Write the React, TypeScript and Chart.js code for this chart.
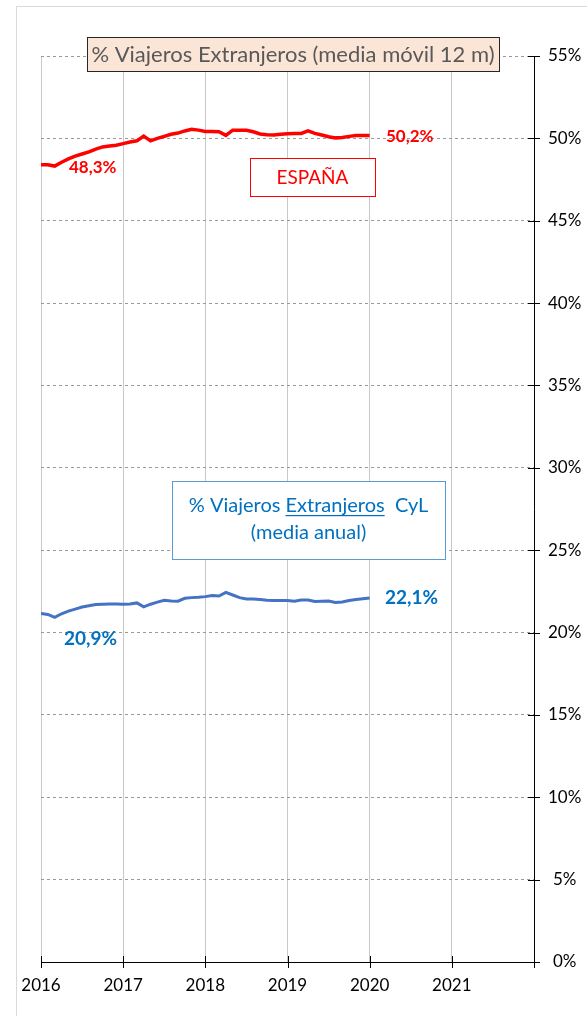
import React, { useEffect, useRef } from 'react';
import { Chart, registerables } from 'chart.js';

Chart.register(...registerables);

// ---- data ----
const startYear = 2016;
const endYear = 2022;
const yearLabels = ['2016', '2017', '2018', '2019', '2020', '2021'];
const yMax = 55;
const yStep = 5;

// monthly values Jan-2016 .. Jan-2020 (% foreign travellers, 12-month moving average)
const espana = [
  48.4, 48.4, 48.32, 48.55, 48.75, 48.92, 49.05, 49.18, 49.35, 49.48, 49.53, 49.58,
  49.68, 49.78, 49.85, 50.14, 49.85, 50.0, 50.12, 50.25, 50.32, 50.45, 50.55, 50.5,
  50.42, 50.42, 50.4, 50.18, 50.5, 50.5, 50.49, 50.4, 50.27, 50.22, 50.21, 50.25,
  50.28, 50.29, 50.3, 50.45, 50.3, 50.2, 50.1, 50.03, 50.05, 50.12, 50.18, 50.18,
  50.17,
];
const cyl = [
  21.16, 21.1, 20.92, 21.14, 21.3, 21.42, 21.55, 21.63, 21.7, 21.72, 21.74, 21.73,
  21.72, 21.74, 21.8, 21.56, 21.72, 21.85, 21.96, 21.92, 21.9, 22.08, 22.12, 22.14,
  22.18, 22.25, 22.22, 22.44, 22.28, 22.12, 22.04, 22.03, 22.0, 21.96, 21.95, 21.95,
  21.95, 21.9, 21.97, 21.98, 21.88, 21.9, 21.91, 21.82, 21.86, 21.95, 22.0, 22.05,
  22.1,
];
const monthPositions = espana.map((_, i) => startYear + i / 12);

const titleText = '% Viajeros Extranjeros (media móvil 12 m)';
const espanaBoxText = 'ESPAÑA';
const cylBoxLine1 = ['% Viajeros ', 'Extranjeros', '  CyL'];
const cylBoxLine2 = '(media anual)';
const espanaStartLabel = '48,3%';
const espanaEndLabel = '50,2%';
const cylStartLabel = '20,9%';
const cylEndLabel = '22,1%';

const FONT = "Lato, 'Noto Sans', sans-serif";
const RED = '#ff0000';
const BLUE_LINE = '#4472c4';
const BLUE_TEXT = '#0070c0';

const overlayPlugin = {
  id: 'overlay',
  beforeDraw(chart: any) {
    const ctx = chart.ctx;
    ctx.save();
    ctx.fillStyle = '#ffffff';
    ctx.fillRect(0, 0, chart.width, chart.height);
    ctx.strokeStyle = '#d9d9d9';
    ctx.lineWidth = 1;
    ctx.strokeRect(16.5, 6.5, chart.width + 20, chart.height + 20);
    ctx.restore();
  },
  afterDraw(chart: any) {
    const ctx = chart.ctx;
    const xs = chart.scales.x;
    const ys = chart.scales.y;
    ctx.save();
    // crossing tick marks
    ctx.strokeStyle = '#000';
    ctx.lineWidth = 1;
    ctx.beginPath();
    for (let v = startYear; v <= endYear; v++) {
      const px = Math.round(xs.getPixelForValue(v)) + 0.5;
      ctx.moveTo(px, ys.bottom - 6);
      ctx.lineTo(px, ys.bottom + 6);
    }
    for (let v = 0; v <= yMax; v += yStep) {
      const py = Math.round(ys.getPixelForValue(v)) + 0.5;
      ctx.moveTo(xs.right - 6, py);
      ctx.lineTo(xs.right + 6, py);
    }
    ctx.stroke();

    // title box
    ctx.fillStyle = '#fbe5d6';
    ctx.fillRect(87, 37, 412, 34);
    ctx.strokeStyle = '#262626';
    ctx.strokeRect(87.5, 37.5, 412, 34);
    ctx.fillStyle = '#595959';
    ctx.font = `22px ${FONT}`;
    ctx.textAlign = 'center';
    ctx.textBaseline = 'middle';
    ctx.fillText(titleText, 293, 55);

    // ESPAÑA box
    ctx.fillStyle = '#ffffff';
    ctx.fillRect(250, 158, 125, 38);
    ctx.strokeStyle = RED;
    ctx.strokeRect(250.5, 158.5, 125, 38);
    ctx.fillStyle = RED;
    ctx.font = `19px ${FONT}`;
    ctx.fillText(espanaBoxText, 312.5, 178);

    // CyL box
    ctx.fillStyle = '#ffffff';
    ctx.fillRect(172, 481, 273, 78);
    ctx.strokeStyle = '#5b9bd5';
    ctx.strokeRect(172.5, 481.5, 273, 78);
    ctx.fillStyle = BLUE_TEXT;
    ctx.font = `20px ${FONT}`;
    const widths = cylBoxLine1.map((t) => ctx.measureText(t).width);
    const total = widths.reduce((a, b) => a + b, 0);
    let x = 308.5 - total / 2;
    ctx.textAlign = 'left';
    ctx.textBaseline = 'alphabetic';
    const base1 = 512;
    cylBoxLine1.forEach((t, i) => {
      ctx.fillText(t, x, base1);
      if (i === 1) {
        ctx.fillRect(x, base1 + 3, widths[i], 1.2);
      }
      x += widths[i];
    });
    ctx.textAlign = 'center';
    ctx.fillText(cylBoxLine2, 308.5, 539);

    // value labels
    ctx.textAlign = 'left';
    ctx.textBaseline = 'middle';
    ctx.font = `bold 17px ${FONT}`;
    ctx.fillStyle = RED;
    ctx.fillText(espanaStartLabel, 69, 168);
    ctx.fillText(espanaEndLabel, 386, 137);
    ctx.font = `bold 19px ${FONT}`;
    ctx.fillStyle = BLUE_TEXT;
    ctx.fillText(cylEndLabel, 385, 598);
    ctx.fillText(cylStartLabel, 64, 639);
    ctx.restore();
  },
};

export default function App() {
  const ref = useRef<HTMLCanvasElement | null>(null);
  useEffect(() => {
    if (!ref.current) return;
    const chart = new Chart(ref.current, {
      type: 'line',
      data: {
        datasets: [
          {
            label: 'España',
            data: monthPositions.map((x, i) => ({ x, y: espana[i] })),
            borderColor: RED,
            borderWidth: 3.5,
            pointRadius: 0,
            tension: 0,
          },
          {
            label: 'CyL',
            data: monthPositions.map((x, i) => ({ x, y: cyl[i] })),
            borderColor: BLUE_LINE,
            borderWidth: 3,
            pointRadius: 0,
            tension: 0,
          },
        ],
      },
      options: {
        animation: false,
        responsive: false,
        devicePixelRatio: 1,
        layout: { padding: { left: 41, top: 56, right: 0, bottom: 0 } },
        plugins: { legend: { display: false }, tooltip: { enabled: false }, title: { display: false } },
        scales: {
          x: {
            type: 'linear',
            position: 'bottom',
            min: startYear,
            max: endYear,
            afterFit: (s: any) => { s.height = 54; },
            afterBuildTicks: (s: any) => {
              const t = [];
              for (let v = startYear; v <= endYear; v++) t.push({ value: v });
              s.ticks = t;
            },
            ticks: {
              callback: (v: any) => yearLabels[Number(v) - startYear] ?? '',
              font: { family: FONT, size: 17 },
              color: '#000',
              padding: 13,
              maxRotation: 0,
              autoSkip: false,
            },
            grid: { color: '#c8c8c8', lineWidth: 1, drawTicks: false },
            border: { display: true, color: '#000', width: 1 },
          },
          y: {
            type: 'linear',
            position: 'right',
            min: 0,
            max: yMax,
            afterFit: (s: any) => { s.width = 53; },
            ticks: {
              stepSize: yStep,
              callback: (v: any) => `${v}%`,
              font: { family: FONT, size: 17 },
              color: '#000',
              crossAlign: 'center',
              padding: 14,
            },
            grid: { color: '#9a9a9a', lineWidth: 1, drawTicks: false },
            border: { display: true, color: '#000', width: 1, dash: [3, 3] },
          },
        },
      },
      plugins: [overlayPlugin],
    } as any);
    return () => chart.destroy();
  }, []);
  return (
    <div style={{ position: 'absolute', left: 0, top: 0, width: 587, height: 1016, background: '#fff' }}>
      <canvas ref={ref} width={587} height={1016} style={{ display: 'block', width: 587, height: 1016 }} />
    </div>
  );
}
